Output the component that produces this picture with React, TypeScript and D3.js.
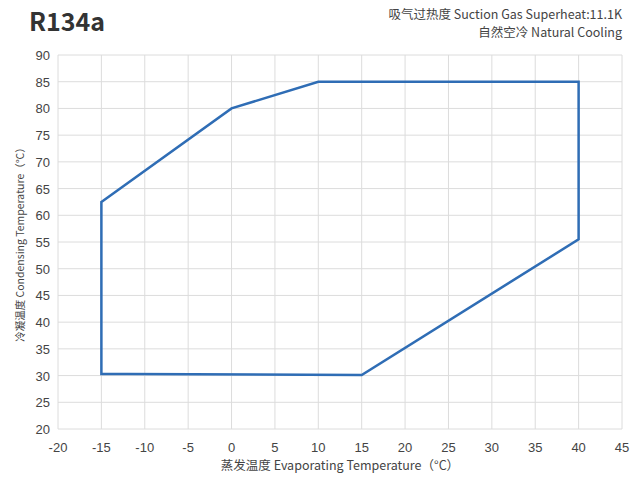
import React from "react";
import * as d3 from "d3";

const evapTemps = [-15, 0, 10, 40, 40, 15, -12, -15];
const condTemps = [62.5, 80, 85, 85, 55.5, 30.1, 30.3, 30.3];
const xTicks = [-20, -15, -10, -5, 0, 5, 10, 15, 20, 25, 30, 35, 40, 45];
const yTicks = [20, 25, 30, 35, 40, 45, 50, 55, 60, 65, 70, 75, 80, 85, 90];

export default function App() {
  const W = 630, H = 480;
  const x = d3.scaleLinear().domain([-20, 45]).range([58, 622]);
  const y = d3.scaleLinear().domain([20, 90]).range([429, 55]);
  const pts: [number, number][] = evapTemps.map((e, i) => [e, condTemps[i]]);
  const line = d3.line<[number, number]>().x(d => x(d[0])).y(d => y(d[1])).curve(d3.curveLinearClosed);
  const font = "'Noto Sans CJK SC', 'Noto Sans', sans-serif";
  const tickFont = "'Liberation Sans', Arial, sans-serif";
  return (
    <svg width={W} height={H} style={{ position: "absolute", left: 0, top: 0, background: "#fff" }}>
      <rect x={0} y={0} width={W} height={H} fill="#fff" />
      <text x={29} y={31} fontFamily={font} fontWeight={700} fontSize={25} fill="#333">R134a</text>
      <text x={622} y={19} textAnchor="end" fontFamily={font} fontSize={12.5} fill="#444">吸气过热度 Suction Gas Superheat:11.1K</text>
      <text x={622} y={37} textAnchor="end" fontFamily={font} fontSize={12.5} fill="#444">自然空冷  Natural Cooling</text>
      {xTicks.map(t => (
        <line key={"gx" + t} x1={x(t)} x2={x(t)} y1={y(90)} y2={y(20)} stroke="#dcdcdc" strokeWidth={1} />
      ))}
      {yTicks.map(t => (
        <line key={"gy" + t} x1={x(-20)} x2={x(45)} y1={y(t)} y2={y(t)} stroke="#dcdcdc" strokeWidth={1} />
      ))}
      {xTicks.map(t => (
        <text key={"tx" + t} x={x(t)} y={452} textAnchor="middle" fontFamily={tickFont} fontSize={13} fill="#444">{t}</text>
      ))}
      {yTicks.map(t => (
        <text key={"ty" + t} x={50} y={y(t) + 5} textAnchor="end" fontFamily={tickFont} fontSize={13} fill="#444">{t}</text>
      ))}
      <text x={340} y={470} textAnchor="middle" fontFamily={font} fontSize={12.5} fill="#444">蒸发温度 Evaporating Temperature（°C）</text>
      <text transform={`translate(24, ${y(55)}) rotate(-90)`} textAnchor="middle" fontFamily={font} fontSize={10.5} fill="#444">冷凝温度 Condensing Temperature（°C）</text>
      <path d={line(pts) || ""} fill="none" stroke="#2f6db5" strokeWidth={2.5} strokeLinejoin="miter" />
    </svg>
  );
}
